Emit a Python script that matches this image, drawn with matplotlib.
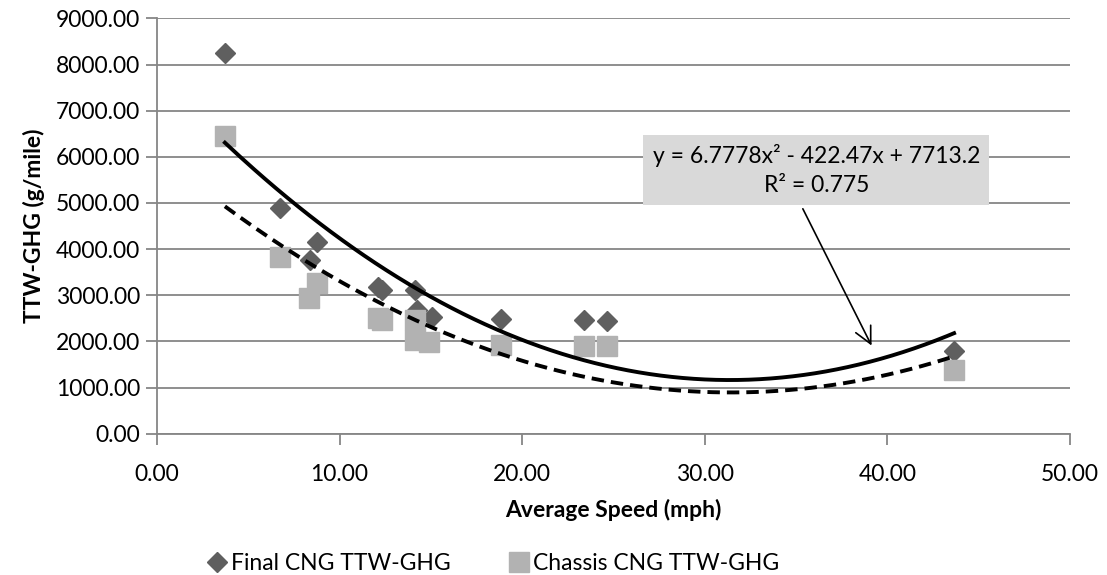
import numpy as np
import matplotlib.pyplot as plt

plt.rcParams['font.family'] = ['Lato', 'DejaVu Sans']

# average speed (mph) and TTW-GHG (g/mile)
speed_final = [3.72, 6.74, 8.38, 8.75, 12.12, 12.30, 14.13, 14.22, 15.04, 18.82, 23.40, 24.64, 43.65]
ghg_final = [8250, 4900, 3760, 4160, 3185, 3113, 3113, 2680, 2520, 2478, 2463, 2448, 1798]

speed_chassis = [3.72, 6.74, 8.30, 8.75, 12.12, 12.30, 14.13, 14.13, 14.91, 18.82, 23.40, 24.64, 43.65]
ghg_chassis = [6450, 3830, 2933, 3258, 2500, 2463, 2463, 2030, 1994, 1922, 1907, 1907, 1380]

eq_text = "y = 6.7778x\u00b2 - 422.47x + 7713.2\nR\u00b2 = 0.775"
xticks = [0, 10, 20, 30, 40, 50]
yticks = [0, 1000, 2000, 3000, 4000, 5000, 6000, 7000, 8000, 9000]

dark = '#5f5f5f'
light = '#b2b2b2'
axis_gray = '#868686'

fig, ax = plt.subplots(figsize=(11.07, 5.75), dpi=100)
fig.subplots_adjust(left=0.1418, right=0.9666, top=0.968, bottom=0.2457)

# polynomial (order 2) trend lines
xx = np.linspace(min(speed_final), max(speed_final), 200)
p_final = np.polyfit(speed_final, ghg_final, 2)
p_chassis = np.polyfit(speed_chassis, ghg_chassis, 2)

ax.plot(speed_final, ghg_final, linestyle='none', marker='D', ms=10.5,
        color=dark, label='Final CNG TTW-GHG', zorder=3)
ax.plot(speed_chassis, ghg_chassis, linestyle='none', marker='s', ms=14,
        color=light, label='Chassis CNG TTW-GHG', zorder=3)
ax.plot(xx, np.polyval(p_final, xx), color='black', lw=2.8, zorder=4)
ax.plot(xx, np.polyval(p_chassis, xx), color='black', lw=2.8,
        dashes=(3.2, 1.8), zorder=4)

ax.set_xlim(0, 50)
ax.set_ylim(0, 9000)
ax.set_xticks(xticks)
ax.set_yticks(yticks)
ax.set_xticklabels(['%.2f' % v for v in xticks])
ax.set_yticklabels(['%.2f' % v for v in yticks])
ax.tick_params(labelsize=16.5, color=axis_gray, width=1.3, length=8, direction='out')
ax.tick_params(axis='x', pad=14)
ax.tick_params(axis='y', pad=4)

ax.yaxis.grid(True, color=axis_gray, lw=1.3)
ax.set_axisbelow(True)
for s in ['top', 'right']:
    ax.spines[s].set_visible(False)
for s in ['left', 'bottom']:
    ax.spines[s].set_color(axis_gray)
    ax.spines[s].set_linewidth(1.3)

ax.set_xlabel('Average Speed (mph)', fontsize=16.5, fontweight='bold', labelpad=10)
ax.set_ylabel('TTW-GHG (g/mile)', fontsize=16.5, fontweight='bold', labelpad=8)

# equation label with arrow
ax.annotate('', xy=(39.2, 1857), xytext=(35.3, 4928),
            arrowprops=dict(arrowstyle='->', color='black', lw=1.2,
                            mutation_scale=30), zorder=5)
ax.text(36.1, 5713, eq_text, ha='center', va='center', multialignment='center',
        fontsize=16.5, linespacing=1.45, zorder=6,
        bbox=dict(boxstyle='square,pad=0.4', facecolor='#d9d9d9', edgecolor='none'))

fig.legend(loc='lower center', ncol=2, frameon=False, fontsize=16.5,
           bbox_to_anchor=(0.445, -0.035), handletextpad=0.1, columnspacing=2.5,
           handlelength=1.0)

plt.savefig('out.png', dpi=100)
